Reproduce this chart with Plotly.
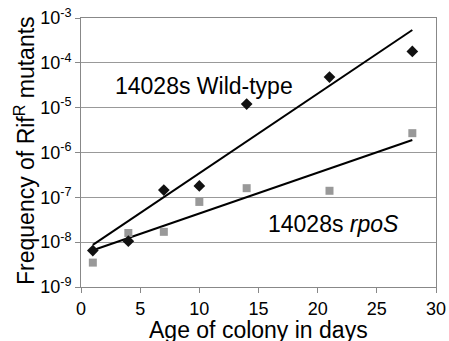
import plotly.graph_objects as go

days = [1, 4, 7, 10, 14, 21, 28]
wt_freq = [6.5e-9, 1.05e-8, 1.45e-7, 1.8e-7, 1.2e-5, 4.8e-5, 1.8e-4]
rpos_freq = [3.5e-9, 1.6e-8, 1.7e-8, 7.9e-8, 1.6e-7, 1.4e-7, 2.7e-6]

trend_days = [1, 28]
wt_trend = [8.7e-9, 5.4e-4]
rpos_trend = [6.6e-9, 1.9e-6]

y_tickvals = [1e-9, 1e-8, 1e-7, 1e-6, 1e-5, 1e-4, 1e-3]
y_ticktext = ["10<sup>-9</sup>", "10<sup>-8</sup>", "10<sup>-7</sup>", "10<sup>-6</sup>",
              "10<sup>-5</sup>", "10<sup>-4</sup>", "10<sup>-3</sup>"]
x_tickvals = [0, 5, 10, 15, 20, 25, 30]

x_title = "Age of colony in days"
y_title = "Frequency of Rif<sup>R</sup> mutants"

FONT = "Arial, Liberation Sans, sans-serif"

fig = go.Figure()
fig.add_trace(go.Scatter(x=trend_days, y=wt_trend, mode="lines",
                         line=dict(color="black", width=2), showlegend=False))
fig.add_trace(go.Scatter(x=trend_days, y=rpos_trend, mode="lines",
                         line=dict(color="black", width=2), showlegend=False))
fig.add_trace(go.Scatter(x=days, y=rpos_freq, mode="markers",
                         marker=dict(symbol="square", size=8, color="#999999"), showlegend=False))
fig.add_trace(go.Scatter(x=days, y=wt_freq, mode="markers",
                         marker=dict(symbol="diamond", size=9, color="#111111"), showlegend=False))

fig.add_annotation(x=10.4, y=-4.52, xref="x", yref="y", text="14028s Wild-type",
                   showarrow=False, font=dict(family=FONT, size=23, color="black"))
fig.add_annotation(x=21.3, y=-7.6, xref="x", yref="y", text="14028s <i>rpoS</i>",
                   showarrow=False, font=dict(family=FONT, size=23, color="black"))

# axis titles
fig.add_annotation(x=0.5, y=-0.16, xref="paper", yref="paper", text=x_title,
                   showarrow=False, xanchor="center", yanchor="middle",
                   font=dict(family=FONT, size=23, color="black"))
fig.add_annotation(x=-0.158, y=0.509, xref="paper", yref="paper", text=y_title,
                   showarrow=False, xanchor="center", yanchor="middle", textangle=-90,
                   font=dict(family=FONT, size=23, color="black"))

fig.update_layout(
    width=449, height=341,
    margin=dict(l=81, r=13, t=18, b=54),
    paper_bgcolor="white", plot_bgcolor="white",
    font=dict(family=FONT, color="black"),
    xaxis=dict(range=[0, 30], tickvals=x_tickvals, ticks="outside", ticklen=5,
               tickcolor="#888888", linecolor="#888888", linewidth=1, mirror=True,
               showgrid=False, zeroline=False, tickfont=dict(size=18), automargin=False),
    yaxis=dict(type="log", range=[-9, -3], tickvals=y_tickvals, ticktext=y_ticktext,
               ticks="outside", ticklen=5, tickcolor="#888888", linecolor="#888888",
               linewidth=1, mirror=True, showgrid=True, gridcolor="#999999", gridwidth=1,
               zeroline=False, tickfont=dict(size=18), automargin=False),
)

fig.write_html("out.html", config={"displayModeBar": False},
               post_script="document.body.style.margin='0';document.body.style.overflow='hidden';")
